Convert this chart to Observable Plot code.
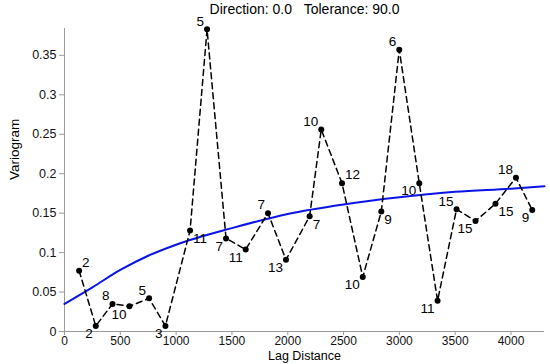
<!DOCTYPE html>
<html>
<head>
<meta charset="utf-8">
<script src="https://cdn.jsdelivr.net/npm/d3@7"></script>
<script src="https://cdn.jsdelivr.net/npm/@observablehq/plot@0.6"></script>
<style>
  html, body { margin: 0; padding: 0; background: #fff; }
  #chart svg { display: block; }
</style>
</head>
<body>
<div id="chart"></div>
<script>
// Experimental variogram (lag distance, variogram value, pair count)
const lags   = [131, 280, 430, 582, 758, 904, 1125, 1277, 1447, 1623, 1823, 1984, 2196, 2300, 2486, 2672, 2838, 2999, 3178, 3342, 3512, 3682, 3861, 4044, 4190];
const gammas = [0.077, 0.007, 0.035, 0.032, 0.042, 0.007, 0.128, 0.383, 0.118, 0.104, 0.150, 0.091, 0.146, 0.256, 0.188, 0.069, 0.152, 0.357, 0.188, 0.039, 0.155, 0.140, 0.162, 0.195, 0.154];
const pairs  = [2, 2, 8, 10, 5, 3, 11, 5, 7, 11, 7, 13, 7, 10, 12, 10, 9, 6, 10, 11, 15, 15, 15, 18, 9];
// label placement relative to its point: ur, ul, ll, lr
const labelPos = ["ur","ll","ul","ll","ul","ll","lr","ul","ll","ll","ul","ll","lr","ul","ur","ll","lr","ul","ll","ll","ul","ll","lr","ul","ll"];

// Fitted model curve
const modelLags   = [0, 250, 500, 750, 1000, 1500, 2000, 2500, 3000, 3500, 4000, 4300];
const modelValues = [0.035, 0.056, 0.078, 0.096, 0.110, 0.131, 0.149, 0.161, 0.170, 0.177, 0.181, 0.184];

const xTicks = [0, 500, 1000, 1500, 2000, 2500, 3000, 3500, 4000];
const yTicks = [0, 0.05, 0.1, 0.15, 0.2, 0.25, 0.3, 0.35];
const title = "Direction: 0.0\u00a0\u00a0\u00a0Tolerance: 90.0";
const xLabel = "Lag Distance";
const yLabel = "Variogram";

const pts = lags.map((l, i) => ({lag: l, gamma: gammas[i], n: pairs[i], pos: labelPos[i]}));
const model = modelLags.map((l, i) => ({lag: l, gamma: modelValues[i]}));

const axisGray = "#9a9a9a";
const font = "'Liberation Sans', Arial, sans-serif";

function labels(pos, dx, dy, anchor) {
  return Plot.text(pts.filter(d => d.pos === pos), {
    x: "lag", y: "gamma", text: d => String(d.n),
    dx, dy, textAnchor: anchor, lineAnchor: "middle",
    fill: "#000", fontSize: 13.5
  });
}

const chart = Plot.plot({
  width: 550,
  height: 364,
  marginLeft: 64,
  marginRight: 6,
  marginTop: 28,
  marginBottom: 33,
  style: { fontFamily: font, fontSize: "12px", background: "#fff", color: "#000" },
  x: { domain: [0, 4300] },
  y: { domain: [0, 0.384] },
  marks: [
    Plot.axisX({ ticks: xTicks, tickSize: 4, tickPadding: 1, stroke: axisGray, fill: "#111", fontSize: 12,
      tickFormat: d => String(d), label: null }),
    Plot.axisY({ ticks: yTicks, tickSize: 5, tickPadding: 3, stroke: axisGray, fill: "#111", fontSize: 12.5,
      tickFormat: d => String(d), label: null }),
    Plot.ruleX([0], { stroke: axisGray }),
    Plot.ruleY([0], { stroke: axisGray }),
    Plot.line(model, { x: "lag", y: "gamma", stroke: "#0a14e6", strokeWidth: 2, curve: "monotone-x" }),
    Plot.line(pts, { x: "lag", y: "gamma", stroke: "#000", strokeWidth: 1.5, strokeDasharray: "6,4" }),
    Plot.dot(pts, { x: "lag", y: "gamma", r: 3, fill: "#000", stroke: "none" }),
    labels("ur", 3, -8, "start"),
    labels("lr", 3, 8, "start"),
    labels("ul", -3, -8, "end"),
    labels("ll", -3, 8, "end"),
    Plot.text([title], { frameAnchor: "top", dy: -19, fontSize: 14, fill: "#000", lineAnchor: "middle" }),
    Plot.text([xLabel], { frameAnchor: "bottom", dy: 24.5, fontSize: 12.5, fill: "#000", lineAnchor: "middle" }),
    Plot.text([yLabel], { frameAnchor: "left", dx: -50, rotate: -90, fontSize: 13.5, fill: "#000", lineAnchor: "middle" })
  ]
});
document.getElementById("chart").appendChild(chart);
</script>
</body>
</html>
